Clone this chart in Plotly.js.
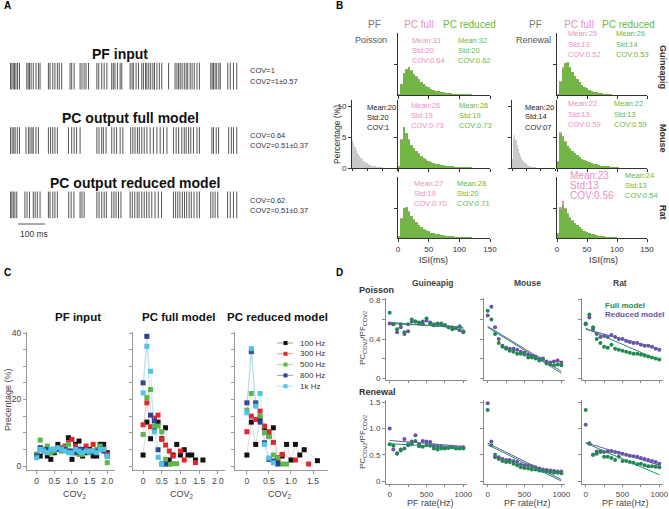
<!DOCTYPE html>
<html>
<head>
<meta charset="utf-8">
<script src="https://cdn.plot.ly/plotly-3.0.1.min.js"></script>
<style>
  html, body { margin: 0; padding: 0; background: #fff; }
  #chart { width: 669px; height: 509px; }
</style>
</head>
<body>
<div id="chart"></div>
<script>
// ---------- data ----------
// A: spike rasters (ms)
const pfSpikes = [2,7,12,17,22,28,35, 62,67,72,78,86,96,105,111, 142,148,158,166,175,182,191, 222,228,237,
  259,266,274,281,290, 321,328,339,348,358, 376,382,388,397,407,413, 444,451,456,466,475,
  487,493,501,506,513,520,528,534,543,552,561,586, 610,617,623,629,636,644,651,657,666,673,681,691,700,
  742,747,752,758,764,772,777, 805,814,826,838];
const fullSpikes = [2,8,14,19,27,35, 59,68,74,81,86,96,105, 142,150,158,166,175, 216, 228,237,246,259,
  321,329,339,345,355, 376,385,394,407,417, 446,454,462,471,478,487,496,506,518,530,543,555,567,580,
  604,614,623,635,644,651,660,668,678,691,700, 746,752,762,771, 808,818,826,838];
const reducedSpikes = [2,7,12,18,25, 55,63,72, 86,93,101,111, 142,148,158,166,175, 217,226,236, 259,266,274,
  321,329,339,348,356, 376,384,392,401,410, 444,452,461,470,477,487,496,505,514,524,536,548,560,
  604,612,620,628,637,645,653,662,670,680,691,700, 742,750,758,768, 804,814,826,838];
const rasterTitles = ['PF input', 'PC output full model', 'PC output reduced model'];
const rasterCov = ['COV=1', 'COV=0.64', 'COV=0.62'];
const rasterCov2 = ['COV2=1±0.57', 'COV2=0.51±0.37', 'COV2=0.51±0.37'];

// B: ISI histograms (% per 4 ms bin)
const isiBins = [2,6,10,14,18,22,26,30,34,38,42,46,50,54,58,62,66,70,74,78,82,86,90,94,98,102,106,110,114,118];
const gpFull = [0.2,1.6,3.4,4.2,4.5,4.1,3.4,3.1,2.5,2.1,1.9,1.4,1.2,1.0,0.8,0.7,0.6,0.5,0.4,0.4,0.3,0.3,0.2,0.2,0.2,0.1,0.1,0.1,0.1,0.05];
const gpRed  = [0.2,1.8,3.6,4.4,4.6,4.0,3.5,3.0,2.6,2.2,1.8,1.5,1.3,1.0,0.9,0.7,0.6,0.5,0.5,0.4,0.3,0.3,0.25,0.2,0.2,0.15,0.1,0.1,0.1,0.1];
const mpFull = [0.3,4.7,6.4,5.5,4.7,3.7,3.3,2.7,2.4,1.8,1.6,1.4,1.1,0.9,0.8,0.7,0.6,0.5,0.4,0.4,0.35,0.3,0.25,0.2,0.2,0.15,0.1,0.1,0.1,0.1];
const mpRed  = [0.3,4.5,6.6,5.6,4.6,3.8,3.2,2.8,2.3,1.9,1.6,1.3,1.1,1.0,0.8,0.7,0.6,0.5,0.45,0.4,0.35,0.3,0.25,0.2,0.2,0.15,0.15,0.1,0.1,0.1];
const rpFull = [0.3,3.4,5.1,5.0,4.5,3.5,3.1,2.5,2.2,1.7,1.5,1.3,1.0,0.9,0.8,0.7,0.6,0.5,0.4,0.4,0.3,0.3,0.3,0.2,0.2,0.15,0.1,0.1,0.1,0.1];
const rpRed  = [0.3,3.2,5.0,5.2,4.4,3.6,3.0,2.6,2.2,1.8,1.5,1.3,1.1,0.9,0.8,0.7,0.6,0.5,0.5,0.4,0.35,0.3,0.3,0.2,0.2,0.15,0.15,0.1,0.1,0.1];
const grFull = [0.2,2.4,4.6,5.4,5.3,4.5,3.9,3.1,2.6,2.0,1.7,1.3,1.1,0.9,0.7,0.5,0.4,0.35,0.3,0.2,0.15,0.1,0.1,0.05,0.05,0,0,0,0,0];
const grRed  = [0.2,2.2,4.4,5.3,5.5,4.6,3.8,3.2,2.6,2.1,1.7,1.4,1.1,0.9,0.7,0.55,0.45,0.35,0.3,0.2,0.15,0.1,0.1,0.05,0.05,0,0,0,0,0];
const mrFull = [1.1,5.8,5.1,4.3,3.5,3.2,2.6,2.4,2.0,1.8,1.5,1.2,1.1,0.9,0.8,0.7,0.6,0.5,0.4,0.35,0.3,0.25,0.2,0.15,0.1,0.1,0.05,0,0,0];
const mrRed  = [1.0,5.5,5.0,4.2,3.6,3.1,2.7,2.4,2.1,1.8,1.5,1.3,1.1,0.9,0.8,0.7,0.6,0.5,0.4,0.35,0.3,0.25,0.2,0.15,0.1,0.1,0.05,0,0,0];
const rrFull = [0.9,5.2,6.2,5.0,4.2,3.5,3.0,2.5,2.1,1.8,1.4,1.2,1.0,0.8,0.7,0.6,0.5,0.4,0.35,0.3,0.25,0.2,0.15,0.1,0.1,0.05,0.05,0,0,0];
const rrRed  = [0.8,4.8,5.6,4.8,4.0,3.4,2.9,2.5,2.1,1.8,1.5,1.2,1.0,0.8,0.7,0.6,0.5,0.4,0.35,0.3,0.25,0.2,0.15,0.1,0.1,0.05,0.05,0,0,0];
const pfPoisson = [4.5,4.0,3.4,2.9,2.5,2.2,1.9,1.6,1.4,1.2,1.0,0.9,0.8,0.6,0.55,0.5,0.4,0.35,0.3,0.25,0.2,0.2,0.15,0.1,0.1,0.1,0.05,0.05,0.05,0];
const pfRenewal = [1.5,4.8,5.3,4.6,3.8,3.1,2.5,2.0,1.6,1.3,1.0,0.8,0.6,0.5,0.4,0.3,0.25,0.2,0.15,0.1,0.1,0.05,0.05,0,0,0,0,0,0,0];

const gpFullStats = ['Mean:31','Std:20','COV:0.64'], gpRedStats = ['Mean:32','Std:20','COV:0.62'];
const mpFullStats = ['Mean:26','Std:19','COV:0.73'], mpRedStats = ['Mean:26','Std:19','COV:0.73'];
const rpFullStats = ['Mean:27','Std:19','COV:0.70'], rpRedStats = ['Mean:28','Std:20','COV:0.71'];
const grFullStats = ['Mean:25','Std:13','COV:0.52'], grRedStats = ['Mean:26','Std:14','COV:0.53'];
const mrFullStats = ['Mean:22','Std:13','COV:0.59'], mrRedStats = ['Mean:22','Std:13','COV:0.59'];
const rrFullStats = ['Mean:23','Std:13','COV:0.56'], rrRedStats = ['Mean:24','Std:13','COV:0.54'];
const pfPoissonStats = ['Mean:20','Std:20','COV:1'], pfRenewalStats = ['Mean:20','Std:14','COV:07'];
const species = ['Guineapig', 'Mouse', 'Rat'];

// C: COV2 distributions (%)
const rateNames = ['100 Hz', '300 Hz', '500 Hz', '800 Hz', '1k Hz'];
const covX1 = [0,0.1,0.2,0.3,0.4,0.5,0.6,0.7,0.8,0.9,1.0,1.1,1.2,1.3,1.4,1.5,1.6,1.7,1.8,1.9,2.0];
const c1Y = [
  [3.5,3,5,3,2,4,6.5,5,5,8.5,2,6.5,7.5,3,4,5,3,3,6.5,6.5,4],
  [3,5,5,4.5,4,5,5,5.5,6,7,8,6,5,4,6,4.5,6.5,4.5,5,5,3.5],
  [3.5,7.8,5,6,4,4.5,5,4.5,5.5,6.5,4,4,3.5,3.5,4.5,4,4.5,5,6,5,1],
  [3,5.5,4.5,5,5,5,5,5,5,4.5,4.5,4,5,5,4.5,4.5,4,4.5,5,4.5,3],
  [2.5,5,4.5,4,5,5,5.5,5,4.5,4,4,5,4.5,4,4.5,4.5,4.5,4,5,5,3]
];
const c2X = [
  [0,0.1,0.2,0.3,0.4,0.5,0.6,0.7,0.8,0.9,1.0,1.1,1.2,1.3,1.4,1.6],
  [0,0.1,0.2,0.3,0.4,0.5,0.6,0.7,0.8,1.0,1.1,1.4],
  [0,0.1,0.2,0.3,0.4,0.5,0.6,0.7,0.8,0.9],
  [0,0.1,0.2,0.3,0.4,0.5,0.6],
  [0,0.1,0.2,0.3,0.4,0.5]
];
const c2Y = [
  [3.3,13.2,8.2,11.5,13.2,8.2,11.5,1.8,3.3,6.5,3.3,4.9,3.3,3.3,1.8,1.8],
  [12.4,19,11.8,14.4,15.3,8,6.3,4.5,3,4.5,1.8,1],
  [9.5,20.6,23,12,12,10.3,2,0.5,0.7,0.7],
  [25,39,15.3,13.6,4.9,0.6,0.6],
  [22,36,28.5,10.3,2.6,0.6]
];
const c3X = [
  [0,0.1,0.2,0.3,0.4,0.5,0.6,0.7,0.8,0.9,1.0,1.1,1.2,1.3,1.6],
  [0,0.1,0.2,0.3,0.4,0.5,0.6,0.7,0.8,1.1,1.4],
  [0,0.1,0.2,0.3,0.4,0.5,0.6,0.7,0.8,0.9],
  [0,0.1,0.2,0.3,0.4,0.5,0.6,0.7],
  [0,0.1,0.2,0.3,0.4,0.5,0.6]
];
const c3Y = [
  [3.3,13.2,6.5,14.4,11.5,9,11.5,2,3,6.5,1.8,6.5,3.3,4.9,1.6],
  [10.3,15,14,16.5,12,10.3,7.1,2.5,3.5,1.8,0.6],
  [16.8,21.8,18.5,15,10,8.8,3.3,2.4,0.6,0.6],
  [19,34.4,19,13.2,7,2,1.5,0.6],
  [16,35.3,18,21.8,6.5,2.4,1]
];

// D: PC_COV2 / PF_COV2 vs PF rate
const rateHz = [0,50,100,150,200,250,300,350,400,450,500,550,600,650,700,750,800,850,900,950,1000];
const fitX = [0, 1000];
const gPoisRed  = [0.56,0.55,0.47,0.52,0.45,0.48,0.58,0.58,0.56,0.58,0.59,0.57,0.54,0.56,0.55,0.54,0.52,0.52,0.51,0.49,0.47];
const gPoisFull = [0.67,0.55,0.50,0.55,0.47,0.55,0.60,0.58,0.57,0.55,0.61,0.56,0.55,0.55,0.56,0.54,0.52,0.50,0.51,0.53,0.48];
const mPoisRed  = [0.64,0.73,0.52,0.40,0.33,0.31,0.30,0.30,0.29,0.27,0.26,0.24,0.23,0.22,0.20,0.20,0.17,0.16,0.17,0.18,0.16];
const mPoisFull = [0.69,0.60,0.45,0.36,0.32,0.30,0.28,0.27,0.25,0.25,0.24,0.21,0.21,0.20,0.18,0.19,0.15,0.14,0.13,0.14,0.13];
const rPoisRed  = [0.56,0.62,0.50,0.45,0.42,0.43,0.42,0.44,0.42,0.40,0.40,0.38,0.37,0.36,0.36,0.34,0.33,0.33,0.32,0.30,0.29];
const rPoisFull = [0.55,0.65,0.52,0.40,0.36,0.32,0.31,0.34,0.30,0.29,0.28,0.27,0.26,0.25,0.25,0.24,0.23,0.22,0.21,0.20,0.19];
const gRenRed   = [1.0,0.60,0.52,0.60,0.80,0.68,0.75,0.87,0.70,0.76,0.75,0.74,0.67,0.66,0.65,0.64,0.64,0.64,0.63,0.63,0.64];
const gRenFull  = [0.70,0.67,0.53,0.58,0.62,0.70,0.70,0.76,0.66,0.65,0.68,0.67,0.62,0.60,0.62,0.62,0.63,0.64,0.62,0.62,0.62];
const mRenRed   = [1.48,0.75,0.45,0.45,0.42,0.40,0.40,0.38,0.36,0.32,0.30,0.30,0.28,0.26,0.24,0.22,0.21,0.20,0.19,0.18,0.18];
const mRenFull  = [1.35,0.68,0.50,0.42,0.38,0.36,0.36,0.33,0.30,0.26,0.25,0.24,0.22,0.22,0.20,0.19,0.18,0.17,0.16,0.16,0.15];
const rRenRed   = [1.07,0.72,0.50,0.56,0.57,0.55,0.56,0.57,0.55,0.54,0.52,0.50,0.48,0.47,0.46,0.44,0.42,0.40,0.38,0.36,0.33];
const rRenFull  = [1.35,0.71,0.50,0.52,0.55,0.46,0.46,0.44,0.40,0.46,0.38,0.38,0.36,0.35,0.32,0.33,0.30,0.28,0.28,0.27,0.26];
const gPoisFitRed = [0.56,0.52], gPoisFitFull = [0.57,0.51];
const mPoisFitRed = [0.53,0.07], mPoisFitFull = [0.52,0.05];
const rPoisFitRed = [0.50,0.30], rPoisFitFull = [0.51,0.18];
const gRenFitRed = [0.77,0.66], gRenFitFull = [0.71,0.63];
const mRenFitRed = [0.72,0.03], mRenFitFull = [0.69,0.0];
const rRenFitRed = [0.73,0.30], rRenFitFull = [0.72,0.12];

// ---------- helpers ----------
const W = 669, H = 509;
const FONT = 'Liberation Sans, Arial, sans-serif';
const fx = v => v / W;
const fy = v => 1 - v / H;
const xdom = (a, b) => [a / W, b / W];
const ydom = (top, bottom) => [1 - bottom / H, 1 - top / H];

const PINK = '#f08dc3', GREEN = '#66bb3a';
const RATE_COLORS = ['#111111', '#e3262d', '#5cb84a', '#2c3e94', '#4fc3e6'];
const RATE_LINES = ['rgba(60,60,60,0.18)', 'rgba(227,38,45,0.22)', 'rgba(92,184,74,0.22)', 'rgba(44,62,148,0.18)', 'rgba(79,195,230,0.3)'];
const D_GREEN = '#1f8a4f', D_PURPLE = '#6a52a8';

const layout = {
  width: W, height: H,
  margin: {l: 0, r: 0, t: 0, b: 0},
  paper_bgcolor: '#fff', plot_bgcolor: 'rgba(0,0,0,0)',
  font: {family: FONT, size: 8, color: '#333'},
  barmode: 'overlay', bargap: 0,
  showlegend: false,
  annotations: [], shapes: []
};
const traces = [];

function setAxes(n, xa, ya) {
  const s = n === 1 ? '' : n;
  const base = {showgrid: false, zeroline: false, fixedrange: true};
  layout['xaxis' + s] = Object.assign({anchor: 'y' + s}, base, xa);
  layout['yaxis' + s] = Object.assign({anchor: 'x' + s}, base, ya);
}
const ids = n => n === 1 ? ['x', 'y'] : ['x' + n, 'y' + n];

function note(text, x, y, opts) {
  opts = opts || {};
  layout.annotations.push({
    text: text, xref: 'paper', yref: 'paper', x: fx(x), y: fy(y), showarrow: false,
    xanchor: opts.anchor || 'left', yanchor: 'middle', textangle: opts.angle || 0,
    font: {family: FONT, size: opts.size || 8, color: opts.color || '#333'}
  });
}

// ---------- A: rasters ----------
setAxes(1, {domain: xdom(10, 240), range: [0, 850], visible: false},
           {domain: ydom(44, 237), range: [-0.5, 2.5], visible: false});
[pfSpikes, fullSpikes, reducedSpikes].forEach((sp, i) => {
  traces.push({x: sp, y: sp.map(() => 2 - i), xaxis: 'x', yaxis: 'y', type: 'scatter', mode: 'markers',
    hoverinfo: 'skip',
    marker: {symbol: 'line-ns', size: 19, line: {width: 1, color: '#555'}}});
});
const rowY = [76, 140, 205];
rasterTitles.forEach((t, i) => note('<b>' + t + '</b>', [120, 130, 135][i], rowY[i] - 22, {anchor: 'center', size: 14, color: '#111'}));
rasterCov.forEach((t, i) => note(t, 248, rowY[i] - 5, {size: 7.5}));
rasterCov2.forEach((t, i) => note(t, 248, rowY[i] + 5, {size: 7.5}));
layout.shapes.push({type: 'line', xref: 'x', yref: 'paper', x0: 30, x1: 130, y0: fy(224), y1: fy(224),
  line: {color: '#555', width: 1}});
note('100 ms', 18, 234, {size: 8.5});
note('<b>A</b>', 2, 6, {size: 10, color: '#000'});

// ---------- B: ISI histograms ----------
const histPanels = [
  {n: 2, xd: [398, 490], yd: [33, 95], yr: 10.3, full: gpFull, red: gpRed, fs: gpFullStats, rs: gpRedStats, sx: [410, 456], sy: 40, lab: false},
  {n: 3, xd: [398, 490], yd: [100, 168], yr: 11, full: mpFull, red: mpRed, fs: mpFullStats, rs: mpRedStats, sx: [409, 457], sy: 105, lab: false},
  {n: 4, xd: [398, 490], yd: [177, 238], yr: 10.2, full: rpFull, red: rpRed, fs: rpFullStats, rs: rpRedStats, sx: [412, 455], sy: 183, lab: true},
  {n: 5, xd: [557, 647], yd: [33, 95], yr: 10.3, full: grFull, red: grRed, fs: grFullStats, rs: grRedStats, sx: [566, 614], sy: 34, lab: false},
  {n: 6, xd: [557, 647], yd: [100, 168], yr: 11, full: mrFull, red: mrRed, fs: mrFullStats, rs: mrRedStats, sx: [566, 612], sy: 104, lab: false},
  {n: 7, xd: [557, 647], yd: [177, 238], yr: 10.2, full: rrFull, red: rrRed, fs: rrFullStats, rs: rrRedStats, sx: [568, 623], sy: 175, lab: true}
];
histPanels.forEach(p => {
  const [xa, ya] = ids(p.n);
  setAxes(p.n,
    {domain: xdom(p.xd[0], p.xd[1]), range: [0, 150], showline: true, linecolor: '#333', linewidth: 1,
     ticks: 'outside', ticklen: 3, tickcolor: '#333', tickvals: [0, 50, 100, 150], showticklabels: p.lab,
     tickfont: {size: 8, color: '#333'}},
    {domain: ydom(p.yd[0], p.yd[1]), range: [0, p.yr], showline: true, linecolor: '#333', linewidth: 1,
     ticks: 'outside', ticklen: 3, tickcolor: '#333', tickvals: [5], showticklabels: false});
  traces.push({x: isiBins, y: p.full, width: 4, type: 'bar', xaxis: xa, yaxis: ya,
    marker: {color: PINK, line: {width: 0}}, hoverinfo: 'skip'});
  traces.push({x: isiBins, y: p.red, width: 4, type: 'bar', xaxis: xa, yaxis: ya,
    marker: {color: GREEN, line: {width: 0}}, opacity: 0.9, hoverinfo: 'skip'});
  const big = p.n === 7 ? 10 : 7.5;
  p.fs.forEach((t, i) => note(t, p.sx[0], p.sy + i * 10, {size: big, color: PINK}));
  p.rs.forEach((t, i) => note(t, p.sx[1], p.sy + i * 10, {size: 7.5, color: GREEN}));
});
// PF input histograms (grey)
[[8, [352, 397], pfPoisson, true], [9, [512, 555], pfRenewal, false]].forEach(([n, xd, vals, lab]) => {
  const [xa, ya] = ids(n);
  setAxes(n,
    {domain: xdom(xd[0], xd[1]), range: [0, 150], showline: true, linecolor: '#333', linewidth: 1,
     ticks: 'outside', ticklen: 2, tickcolor: '#333', tickvals: [0, 50, 100, 150], showticklabels: false},
    {domain: ydom(100, 168), range: [0, 11], showline: true, linecolor: '#333', linewidth: 1,
     ticks: 'outside', ticklen: 3, tickcolor: '#333', tickvals: [0, 5, 10], showticklabels: lab,
     tickfont: {size: 8, color: '#333'}});
  traces.push({x: isiBins, y: vals, width: 4, type: 'bar', xaxis: xa, yaxis: ya,
    marker: {color: '#c9c9c9', line: {width: 0}}, hoverinfo: 'skip'});
});
pfPoissonStats.forEach((t, i) => note(t, 365, 108 + i * 9.5, {size: 7.5, color: '#222'}));
pfRenewalStats.forEach((t, i) => note(t, 523, 107 + i * 10, {size: 7.5, color: '#222'}));
note('<b>B</b>', 334, 6, {size: 10, color: '#000'});
note('PF', 375, 25, {anchor: 'center', size: 10, color: '#777'});
note('PC full', 418, 25, {anchor: 'center', size: 10, color: PINK});
note('PC reduced', 470, 25, {anchor: 'center', size: 10, color: GREEN});
note('PF', 535, 25, {anchor: 'center', size: 10, color: '#777'});
note('PC full', 578, 25, {anchor: 'center', size: 10, color: PINK});
note('PC reduced', 628, 25, {anchor: 'center', size: 10, color: GREEN});
note('Poisson', 389, 40, {anchor: 'right', size: 9, color: '#555'});
note('Renewal', 553, 40, {anchor: 'right', size: 9, color: '#555'});
species.forEach((s, i) => note('<b>' + s + '</b>', 663, [67, 138, 212][i], {anchor: 'center', angle: 90, size: 9, color: '#333'}));
note('Percentage (%)', 337, 135, {anchor: 'center', angle: -90, size: 8.5});
note('ISI(ms)', 433, 260, {anchor: 'center', size: 9});
note('ISI(ms)', 603, 260, {anchor: 'center', size: 9});

// ---------- C: COV2 distributions ----------
const cPanels = [
  {n: 10, xd: [27, 115], xr: [-0.275, 2.22], xs: covX1.map(() => covX1), ys: c1Y, tv: [0, 0.5, 1, 1.5, 2], lab: true, title: 'PF input', tx: 78, cx: 75},
  {n: 11, xd: [133, 225], xr: [-0.27, 2.19], xs: c2X, ys: c2Y, tv: [0, 0.5, 1, 1.5, 2], lab: false, title: 'PC full model', tx: 178, cx: 182},
  {n: 12, xd: [235, 328], xr: [-0.27, 1.84], xs: c3X, ys: c3Y, tv: [0, 0.5, 1, 1.5], lab: false, title: 'PC reduced model', tx: 277, cx: 280}
];
const cTickText = ['0', '0.5', '1.0', '1.5', '2.0'];
cPanels.forEach(p => {
  const [xa, ya] = ids(p.n);
  setAxes(p.n,
    {domain: xdom(p.xd[0], p.xd[1]), range: p.xr, showline: true, linecolor: '#999', linewidth: 1,
     ticks: 'outside', ticklen: 3, tickcolor: '#999', tickvals: p.tv, ticktext: cTickText.slice(0, p.tv.length),
     tickfont: {size: 8.5, color: '#444'}},
    {domain: ydom(332, 470), range: [-1.2, 40.3], showline: true, linecolor: '#999', linewidth: 1,
     ticks: 'outside', ticklen: 3, tickcolor: '#999', tickvals: [0, 20, 40], showticklabels: p.lab,
     minor: {dtick: 5, tick0: 0, ticks: 'outside', ticklen: 3, tickcolor: '#999'},
     tickfont: {size: 8.5, color: '#444'}});
  p.ys.forEach((vals, k) => {
    traces.push({x: p.xs[k], y: vals, xaxis: xa, yaxis: ya, type: 'scatter', mode: 'lines+markers',
      name: rateNames[k], hoverinfo: 'skip',
      line: {color: RATE_LINES[k], width: 1},
      marker: {symbol: 'square', size: 5, color: RATE_COLORS[k]}});
  });
  note('<b>' + p.title + '</b>', p.tx, 317, {anchor: 'center', size: 11.5, color: '#111'});
  note('COV<sub>2</sub>', p.cx, 494, {anchor: 'center', size: 9, color: '#444'});
});
// compact legend for rates
rateNames.forEach((name, k) => {
  const yk = 343 + 10.8 * k;
  layout.shapes.push({type: 'line', xref: 'paper', yref: 'paper', x0: fx(277), x1: fx(293), y0: fy(yk), y1: fy(yk),
    line: {color: RATE_LINES[k].replace(/0\.\d+\)$/, '0.5)'), width: 1}});
  layout.shapes.push({type: 'rect', xref: 'paper', yref: 'paper', x0: fx(283.5), x1: fx(287.5), y0: fy(yk + 2), y1: fy(yk - 2),
    fillcolor: RATE_COLORS[k], line: {width: 0}});
  note(name, 298, yk, {size: 8, color: '#333'});
});
note('<b>C</b>', 2, 272, {size: 10, color: '#000'});
note('Precentage (%)', 8, 400, {anchor: 'center', angle: -90, size: 9, color: '#444'});

// ---------- D: ratio vs PF rate ----------
const dPanels = [
  {n: 13, xd: [386, 467], row: 0, red: gPoisRed, full: gPoisFull, fr: gPoisFitRed, ff: gPoisFitFull, lab: true},
  {n: 14, xd: [484, 565], row: 0, red: mPoisRed, full: mPoisFull, fr: mPoisFitRed, ff: mPoisFitFull, lab: false},
  {n: 15, xd: [582, 663], row: 0, red: rPoisRed, full: rPoisFull, fr: rPoisFitRed, ff: rPoisFitFull, lab: false},
  {n: 16, xd: [386, 467], row: 1, red: gRenRed, full: gRenFull, fr: gRenFitRed, ff: gRenFitFull, lab: true},
  {n: 17, xd: [484, 565], row: 1, red: mRenRed, full: mRenFull, fr: mRenFitRed, ff: mRenFitFull, lab: false},
  {n: 18, xd: [582, 663], row: 1, red: rRenRed, full: rRenFull, fr: rRenFitRed, ff: rRenFitFull, lab: false}
];
dPanels.forEach(p => {
  const [xa, ya] = ids(p.n);
  const yaxisDef = p.row === 0
    ? {domain: ydom(298, 380), range: [-0.02, 0.82], tickvals: [0, 0.4, 0.8], ticktext: ['0', '0.4', '0.8'],
       minor: {dtick: 0.2, tick0: 0, ticks: 'outside', ticklen: 3, tickcolor: '#888'}}
    : {domain: ydom(400, 484), range: [-0.056, 1.54], tickvals: [0, 0.5, 1, 1.5], ticktext: ['0', '0.5', '1.0', '1.5']};
  setAxes(p.n,
    {domain: xdom(p.xd[0], p.xd[1]), range: [-50, 1050], showline: true, linecolor: '#888', linewidth: 1,
     ticks: 'outside', ticklen: 2, tickcolor: '#888', tickvals: [0, 500, 1000],
     minor: {dtick: 250, tick0: 0, ticks: 'outside', ticklen: 2, tickcolor: '#888'},
     showticklabels: p.row === 1, tickfont: {size: 8, color: '#444'}},
    Object.assign(yaxisDef, {showline: true, linecolor: '#888', linewidth: 1, ticks: 'outside', ticklen: 3,
     tickcolor: '#888', showticklabels: p.lab, tickfont: {size: 8, color: '#444'}}));
  traces.push({x: rateHz, y: p.red, xaxis: xa, yaxis: ya, type: 'scatter', mode: 'markers',
    hoverinfo: 'skip', marker: {size: 4, color: D_PURPLE}});
  traces.push({x: rateHz, y: p.full, xaxis: xa, yaxis: ya, type: 'scatter', mode: 'markers',
    hoverinfo: 'skip', marker: {size: 4, color: D_GREEN}});
  traces.push({x: fitX, y: p.fr, xaxis: xa, yaxis: ya, type: 'scatter', mode: 'lines',
    hoverinfo: 'skip', line: {color: '#5b5fa8', width: 1}});
  traces.push({x: fitX, y: p.ff, xaxis: xa, yaxis: ya, type: 'scatter', mode: 'lines',
    hoverinfo: 'skip', line: {color: '#2a8a62', width: 1}});
});
note('<b>D</b>', 334, 272, {size: 10, color: '#000'});
species.forEach((s, i) => note('<b>' + s + '</b>', [433, 527, 620][i], 283, {anchor: 'center', size: 8.5, color: '#444'}));
note('<b>Poisson</b>', 357, 290, {size: 9, color: '#333'});
note('<b>Renewal</b>', 357, 392, {size: 9, color: '#333'});
note('PC<sub>COV2</sub>/PF<sub>COV2</sub>', 363, 338, {anchor: 'center', angle: -90, size: 8, color: '#444'});
note('PC<sub>COV2</sub>/PF<sub>COV2</sub>', 363, 442, {anchor: 'center', angle: -90, size: 8, color: '#444'});
[430, 527, 625].forEach(x => note('PF rate(Hz)', x, 503, {anchor: 'center', size: 9, color: '#444'}));
note('<b>Full model</b>', 603, 305, {size: 8, color: D_GREEN});
note('<b>Reduced model</b>', 603, 314, {size: 8, color: D_PURPLE});

Plotly.newPlot('chart', traces, layout, {displayModeBar: false, staticPlot: true});
</script>
</body>
</html>
